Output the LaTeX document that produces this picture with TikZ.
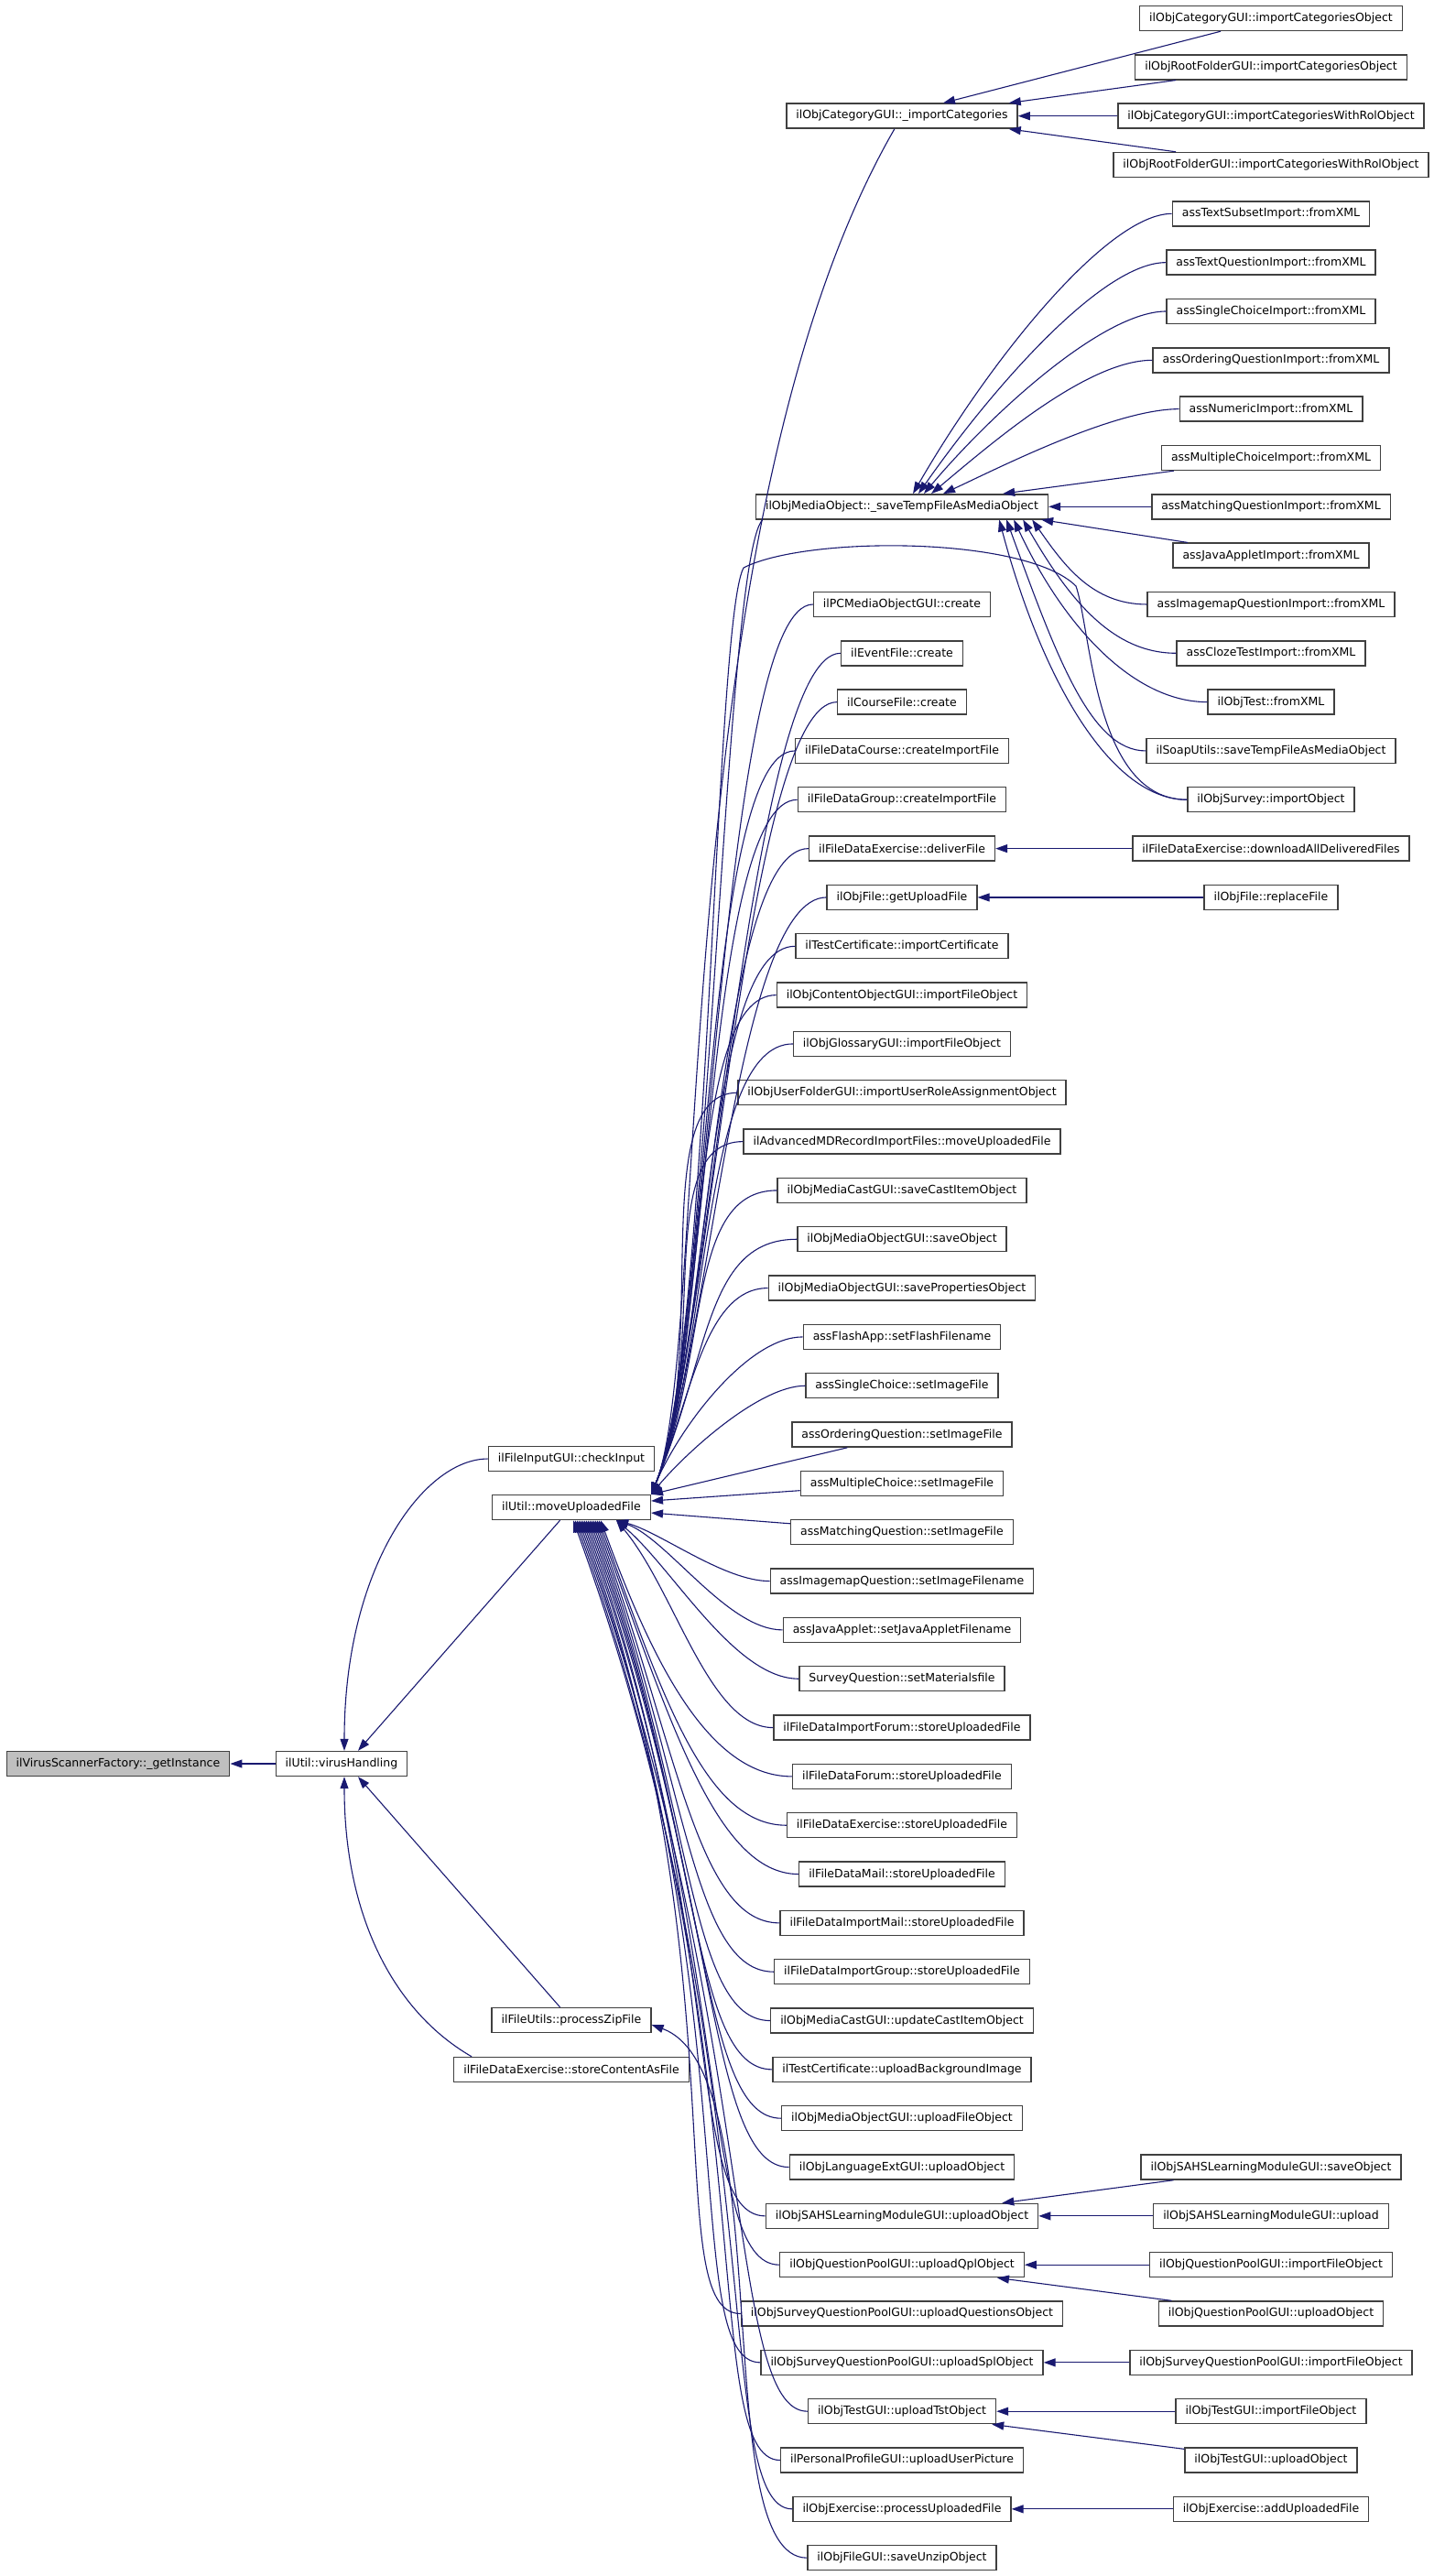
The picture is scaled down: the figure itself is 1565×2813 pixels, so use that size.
\documentclass[tikz,border=0pt]{standalone}
\usepackage{fontspec}
\setmainfont{DejaVu Sans}
\usetikzlibrary{arrows.meta,calc}
\definecolor{callblue}{HTML}{191970}
\definecolor{rootgray}{HTML}{BFBFBF}

\begin{document}
\begin{tikzpicture}[x=0.5pt,y=-0.5pt,
  fn/.style={draw=black!75,line width=0.7pt,fill=white,
    font=\fontsize{6.25}{7.5}\selectfont,inner xsep=5.25pt,inner ysep=0pt,minimum height=13.5pt},
  call/.style={draw=callblue,line width=0.55pt,-{Triangle[length=6.5pt,width=4.5pt]}}]
  \useasboundingbox (0,0) rectangle (1565,2813);

  % left side: the scanner and its direct callers
  \node[fn,fill=rootgray] (gi) at (129,1926) {ilVirusScannerFactory::\_getInstance};
  \node[fn] (vh) at (373,1926) {ilUtil::virusHandling};
  \node[fn] (chk) at (624,1593) {ilFileInputGUI::checkInput};
  \node[fn] (mvu) at (624,1646) {ilUtil::moveUploadedFile};
  \node[fn] (pzf) at (624,2206) {ilFileUtils::processZipFile};
  \node[fn] (scf) at (624,2260) {ilFileDataExercise::storeContentAsFile};

  % middle column, one row = 53.33
  \foreach \n/\r/\lbl in {
    impcat/2/ilObjCategoryGUI::\_importCategories,
    savetmp/10/ilObjMediaObject::\_saveTempFileAsMediaObject,
    pcmo/12/ilPCMediaObjectGUI::create,
    evf/13/ilEventFile::create,
    crsf/14/ilCourseFile::create,
    fdcrs/15/ilFileDataCourse::createImportFile,
    fdgrp/16/ilFileDataGroup::createImportFile,
    fdxdel/17/ilFileDataExercise::deliverFile,
    getupl/18/ilObjFile::getUploadFile,
    tcimp/19/ilTestCertificate::importCertificate,
    cogui/20/ilObjContentObjectGUI::importFileObject,
    glogui/21/ilObjGlossaryGUI::importFileObject,
    usrf/22/ilObjUserFolderGUI::importUserRoleAssignmentObject,
    amd/23/ilAdvancedMDRecordImportFiles::moveUploadedFile,
    mcsave/24/ilObjMediaCastGUI::saveCastItemObject,
    mosave/25/ilObjMediaObjectGUI::saveObject,
    moprop/26/ilObjMediaObjectGUI::savePropertiesObject,
    flash/27/assFlashApp::setFlashFilename,
    scimg/28/assSingleChoice::setImageFile,
    oqimg/29/assOrderingQuestion::setImageFile,
    mcimg/30/assMultipleChoice::setImageFile,
    mqimg/31/assMatchingQuestion::setImageFile,
    imfn/32/assImagemapQuestion::setImageFilename,
    jafn/33/assJavaApplet::setJavaAppletFilename,
    sqmat/34/SurveyQuestion::setMaterialsfile,
    fdifrm/35/ilFileDataImportForum::storeUploadedFile,
    fdfrm/36/ilFileDataForum::storeUploadedFile,
    fdxst/37/ilFileDataExercise::storeUploadedFile,
    fdmail/38/ilFileDataMail::storeUploadedFile,
    fdimail/39/ilFileDataImportMail::storeUploadedFile,
    fdigrp/40/ilFileDataImportGroup::storeUploadedFile,
    mcupd/41/ilObjMediaCastGUI::updateCastItemObject,
    tcbg/42/ilTestCertificate::uploadBackgroundImage,
    moupl/43/ilObjMediaObjectGUI::uploadFileObject,
    lngupl/44/ilObjLanguageExtGUI::uploadObject,
    sahsobj/45/ilObjSAHSLearningModuleGUI::uploadObject,
    qplobj/46/ilObjQuestionPoolGUI::uploadQplObject,
    sqpq/47/ilObjSurveyQuestionPoolGUI::uploadQuestionsObject,
    splobj/48/ilObjSurveyQuestionPoolGUI::uploadSplObject,
    tstobj/49/ilObjTestGUI::uploadTstObject,
    ppic/50/ilPersonalProfileGUI::uploadUserPicture,
    exproc/51/ilObjExercise::processUploadedFile,
    unzip/52/ilObjFileGUI::saveUnzipObject}
    \node[fn] (\n) at (985,{20+53.33*\r}) {\lbl};

  % right column
  \foreach \n/\r/\lbl in {
    catimp/0/ilObjCategoryGUI::importCategoriesObject,
    rootimp/1/ilObjRootFolderGUI::importCategoriesObject,
    catrol/2/ilObjCategoryGUI::importCategoriesWithRolObject,
    rootrol/3/ilObjRootFolderGUI::importCategoriesWithRolObject,
    txsub/4/assTextSubsetImport::fromXML,
    txq/5/assTextQuestionImport::fromXML,
    scimp/6/assSingleChoiceImport::fromXML,
    oqimp/7/assOrderingQuestionImport::fromXML,
    numimp/8/assNumericImport::fromXML,
    mcimp/9/assMultipleChoiceImport::fromXML,
    mqimp/10/assMatchingQuestionImport::fromXML,
    jaimp/11/assJavaAppletImport::fromXML,
    imimp/12/assImagemapQuestionImport::fromXML,
    clzimp/13/assClozeTestImport::fromXML,
    tstxml/14/ilObjTest::fromXML,
    soap/15/ilSoapUtils::saveTempFileAsMediaObject,
    svyimp/16/ilObjSurvey::importObject,
    dlall/17/ilFileDataExercise::downloadAllDeliveredFiles,
    repl/18/ilObjFile::replaceFile,
    sahssave/44/ilObjSAHSLearningModuleGUI::saveObject,
    sahsupl/45/ilObjSAHSLearningModuleGUI::upload,
    qplimp/46/ilObjQuestionPoolGUI::importFileObject,
    qplupl/47/ilObjQuestionPoolGUI::uploadObject,
    splimp/48/ilObjSurveyQuestionPoolGUI::importFileObject,
    tstimp/49/ilObjTestGUI::importFileObject,
    tstupl/50/ilObjTestGUI::uploadObject,
    exadd/51/ilObjExercise::addUploadedFile}
    \node[fn] (\n) at (1388,{20+53.33*\r}) {\lbl};

  % into virusHandling and the factory
  \draw[call] (vh) -- (gi);
  \draw[call] (chk) to[out=180,in=90,out distance=35pt,in distance=100pt] ([xshift=1.5pt]vh.north);
  \draw[call] (mvu) -- ([xshift=9pt]vh.north);
  \draw[call] (pzf) -- ([xshift=9pt]vh.south);
  \draw[call] ([xshift=10pt]scf.north west) to[out=150,in=-90,out distance=50pt,in distance=75pt] ([xshift=1.5pt]vh.south);
  \draw[call] (unzip) to[out=180,in=-20,out distance=55pt,in distance=75pt] ([yshift=-2.5pt]pzf.east);

  % callers above moveUploadedFile share one lane
  \draw[call] (impcat) to[out=-120,in=67,out distance=250pt,in distance=82.5pt] (mvu.north east);
  \draw[call] ([xshift=4pt]savetmp.south west) to[out=-135,in=67,out distance=30pt,in distance=82.5pt] (mvu.north east);
  \foreach \n in {pcmo,evf,crsf,fdcrs,fdgrp,fdxdel,getupl,tcimp,cogui,glogui,usrf,amd,mcsave,mosave}
    \draw[call] (\n) to[out=180,in=67,out distance=50pt,in distance=82.5pt] (mvu.north east);
  \foreach \n/\a/\o/\i in {moprop/67/35/55,flash/67/30/40,scimg/50/25/30}
    \draw[call] (\n) to[out=180,in=\a,out distance=\o pt,in distance=\i pt] (mvu.north east);
  \draw[call] (oqimg) -- (mvu.north east);
  \draw[call] (mcimg) -- ([yshift=3.5pt]mvu.east);
  \draw[call] (mqimg) -- ([yshift=-3pt]mvu.east);
  % survey import loops over the media object
  \coordinate (arcR) at (1175,640);
  \coordinate (arcL) at (812,620);
  \draw[call] (svyimp.west) .. controls (1195,873) and (1192,690) .. (arcR)
    .. controls (1120,585) and (880,585) .. (arcL)
    .. controls (780,680) and (775,1480) .. (mvu.north east);

  % callers below moveUploadedFile
  \foreach \n/\a/\o/\i in {imfn/-15/25/25,jafn/-20/30/30,sqmat/-40/35/40,fdifrm/-50/35/50}
    \draw[call] (\n) to[out=180,in=\a,out distance=\o pt,in distance=\i pt] ([xshift=-19pt]mvu.south east);
  \foreach \n/\r in {fdfrm/36,fdxst/37,fdmail/38,fdimail/39,fdigrp/40,mcupd/41,tcbg/42,moupl/43,
      lngupl/44,sahsobj/45,qplobj/46,sqpq/47,splobj/48,tstobj/49,ppic/50,exproc/51} {
    \pgfmathsetmacro{\d}{0.3*(53.33*\r-1641)}
    \pgfmathsetmacro{\s}{-27.5-(\r-36)}
    \draw[call] (\n) to[out=180,in=-70,out distance=45pt,in distance=\d pt] ([xshift=\s pt]mvu.south east);
  }

  % into _importCategories
  \draw[call] (catimp) -- ([xshift=22.5pt]impcat.north);
  \draw[call] (rootimp) -- ([xshift=-5pt]impcat.north east);
  \draw[call] (catrol) -- (impcat);
  \draw[call] (rootrol) -- ([xshift=-5pt]impcat.south east);

  % into _saveTempFileAsMediaObject
  \foreach \n/\s/\a/\i in {txsub/6/60/85,txq/9/55/70,scimp/12/50/55,oqimp/16/40/45,numimp/22.5/25/35}
    \draw[call] (\n) to[out=180,in=\a,out distance=35pt,in distance=\i pt] ([xshift=\s pt]savetmp.north);
  \draw[call] (mcimp) -- ([xshift=-25pt]savetmp.north east);
  \draw[call] (mqimp) -- (savetmp);
  \draw[call] (jaimp) -- ([xshift=-4pt]savetmp.south east);
  \foreach \n/\s/\a/\o/\i in {imimp/9/-55/30/30,clzimp/14/-60/35/50,tstxml/19/-65/40/65,
      soap/23/-70/30/80,svyimp/27/-75/40/95}
    \draw[call] (\n) to[out=180,in=\a,out distance=\o pt,in distance=\i pt] ([xshift=-\s pt]savetmp.south east);

  % short hops on the right
  \draw[call] (dlall) -- (fdxdel);
  \draw[call] (repl) -- (getupl);
  \draw[call] (sahssave) -- ([xshift=-20pt]sahsobj.north east);
  \draw[call] (sahsupl) -- (sahsobj);
  \draw[call] (qplimp) -- (qplobj);
  \draw[call] (qplupl) -- ([xshift=-15pt]qplobj.south east);
  \draw[call] (splimp) -- (splobj);
  \draw[call] (tstimp) -- (tstobj);
  \draw[call] (tstupl) -- ([xshift=-2.5pt]tstobj.south east);
  \draw[call] (exadd) -- (exproc);
\end{tikzpicture}
\end{document}
